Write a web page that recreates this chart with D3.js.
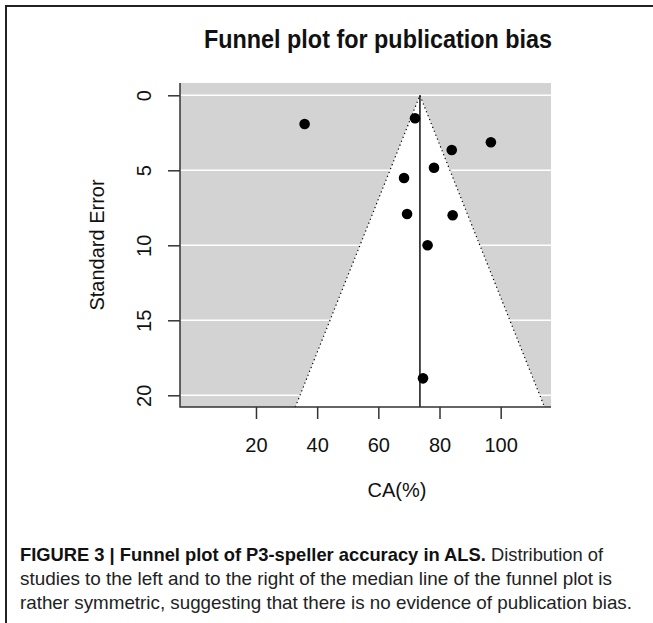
<!DOCTYPE html>
<html>
<head>
<meta charset="utf-8">
<script src="https://cdn.jsdelivr.net/npm/d3@7"></script>
<style>
  body { margin: 0; background: #fff; }
  text { font-family: "Liberation Sans", Arial, Helvetica, sans-serif; }
</style>
</head>
<body>
<script>
var width = 653;
var height = 623;

// studies: classification accuracy (%) and standard error
var studyCA = [35.9, 72.0, 84.0, 96.8, 78.2, 68.4, 69.4, 84.3, 76.1, 74.6];
var studySE = [1.91, 1.53, 3.65, 3.13, 4.83, 5.51, 7.91, 8.0, 10.0, 18.87];
var medianCA = 73.6;
var xTicks = [20, 40, 60, 80, 100];
var yTicks = [0, 5, 10, 15, 20];
var captionLines = [
  ["FIGURE 3 | Funnel plot of P3-speller accuracy in ALS.", " Distribution of"],
  ["", "studies to the left and to the right of the median line of the funnel plot is"],
  ["", "rather symmetric, suggesting that there is no evidence of publication bias."]
];

var data = studyCA.map(function (d, i) { return {ca: d, se: studySE[i]}; });

var svg = d3.select("body").append("svg")
    .attr("width", width)
    .attr("height", height);

// frame (top and left rules)
svg.append("path")
    .attr("d", "M6," + height + "V6H" + width)
    .attr("fill", "none")
    .attr("stroke", "#222")
    .attr("stroke-width", 2);

var x = d3.scaleLinear().domain([-4.84, 116.45]).range([180, 551]);
var y = d3.scaleLinear().domain([-0.82, 20.78]).range([83, 407]);
var seMax = y.domain()[1];

// gray background
svg.append("rect")
    .attr("x", x.range()[0])
    .attr("y", y.range()[0])
    .attr("width", x.range()[1] - x.range()[0])
    .attr("height", y.range()[1] - y.range()[0])
    .attr("fill", "#d3d3d3");

// white grid lines
svg.selectAll(".grid").data(yTicks).enter()
    .append("line")
    .classed("grid", true)
    .attr("x1", x.range()[0])
    .attr("x2", x.range()[1])
    .attr("y1", function (d) { return y(d); })
    .attr("y2", function (d) { return y(d); })
    .attr("stroke", "#fff")
    .attr("stroke-width", 1.5);

// funnel (median +/- 1.96 SE)
var funnel = [[medianCA - 1.96 * seMax, seMax], [medianCA, 0], [medianCA + 1.96 * seMax, seMax]];
var line = d3.line().x(function (d) { return x(d[0]); }).y(function (d) { return y(d[1]); });

svg.append("path")
    .attr("d", line(funnel) + "Z")
    .attr("fill", "#fff");

svg.append("path")
    .attr("d", line(funnel))
    .attr("fill", "none")
    .attr("stroke", "#000")
    .attr("stroke-width", 1.2)
    .attr("stroke-dasharray", "1.2,3");

// median line
svg.append("line")
    .attr("x1", x(medianCA))
    .attr("x2", x(medianCA))
    .attr("y1", y(0))
    .attr("y2", y(seMax))
    .attr("stroke", "#111")
    .attr("stroke-width", 1.5);

// studies
svg.selectAll(".dots").data(data).enter()
    .append("circle")
    .classed("dots", true)
    .attr("cx", function (d) { return x(d.ca); })
    .attr("cy", function (d) { return y(d.se); })
    .attr("r", 5.3)
    .attr("fill", "#000");

// L-shaped box
svg.append("path")
    .attr("d", "M" + x.range()[0] + "," + y.range()[0] + "V" + y.range()[1] + "H" + x.range()[1])
    .attr("fill", "none")
    .attr("stroke", "#333")
    .attr("stroke-width", 1.5);

// axes
var yAxis = svg.append("g")
    .attr("transform", "translate(" + x.range()[0] + ",0)")
    .call(d3.axisLeft(y).tickValues(yTicks).tickSize(12).tickFormat(d3.format("d")));
yAxis.select(".domain").remove();
yAxis.selectAll("line").attr("stroke", "#333").attr("stroke-width", 1.5);
yAxis.selectAll("text")
    .attr("transform", "rotate(-90)")
    .attr("x", 0)
    .attr("y", -29)
    .attr("dy", 0)
    .attr("text-anchor", "middle")
    .style("font-size", "20px")
    .attr("fill", "#111");

var xAxis = svg.append("g")
    .attr("transform", "translate(0," + y.range()[1] + ")")
    .call(d3.axisBottom(x).tickValues(xTicks).tickSize(12).tickFormat(d3.format("d")));
xAxis.select(".domain").remove();
xAxis.selectAll("line").attr("stroke", "#333").attr("stroke-width", 1.5);
xAxis.selectAll("text")
    .attr("y", 45)
    .attr("dy", 0)
    .style("font-size", "20px")
    .attr("fill", "#111");

// titles
svg.append("text")
    .text("Funnel plot for publication bias")
    .attr("x", 378)
    .attr("y", 48)
    .attr("text-anchor", "middle")
    .style("font-size", "25px")
    .style("font-weight", "bold")
    .attr("textLength", 348)
    .attr("lengthAdjust", "spacingAndGlyphs")
    .attr("fill", "#111");

svg.append("text")
    .text("Standard Error")
    .attr("transform", "translate(104,245) rotate(-90)")
    .attr("text-anchor", "middle")
    .style("font-size", "20px")
    .attr("fill", "#111");

svg.append("text")
    .text("CA(%)")
    .attr("x", 397)
    .attr("y", 497)
    .attr("text-anchor", "middle")
    .style("font-size", "20px")
    .attr("fill", "#111");

// caption
var lineEnds = [603, 612, 632];
captionLines.forEach(function (parts, i) {
    var t = svg.append("text")
        .attr("x", 20)
        .attr("y", 561 + i * 24)
        .style("font-size", "18.5px")
        .attr("fill", "#222")
        .attr("textLength", lineEnds[i] - 20)
        .attr("lengthAdjust", "spacingAndGlyphs");
    if (parts[0]) t.append("tspan").style("font-weight", "bold").attr("fill", "#111").text(parts[0]);
    t.append("tspan").text(parts[1]);
});
</script>
</body>
</html>
